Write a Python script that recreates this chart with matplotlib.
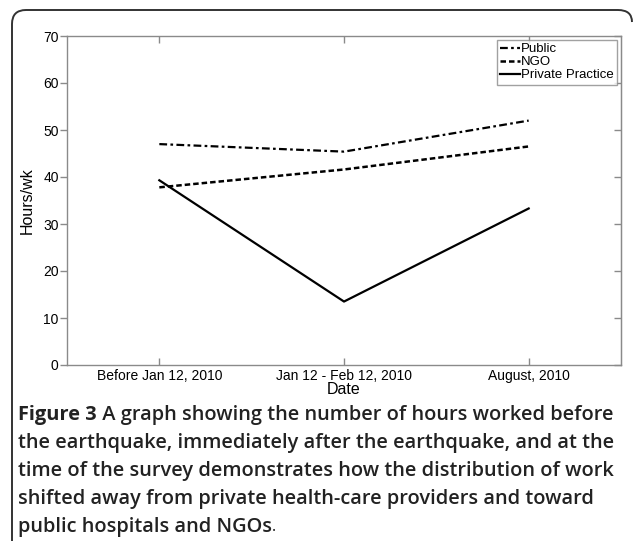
import matplotlib
matplotlib.use("Agg")
import matplotlib.pyplot as plt
from matplotlib.path import Path
from matplotlib.patches import PathPatch

categories = ["Before Jan 12, 2010", "Jan 12 - Feb 12, 2010", "August, 2010"]
public = [47.0, 45.4, 52.0]
ngo = [37.8, 41.6, 46.5]
private = [39.3, 13.5, 33.3]
series_names = ["Public", "NGO", "Private Practice"]
yticks = [0, 10, 20, 30, 40, 50, 60, 70]

caption_lines = [
    ("Figure 3", " A graph showing the number of hours worked before"),
    ("", "the earthquake, immediately after the earthquake, and at the"),
    ("", "time of the survey demonstrates how the distribution of work"),
    ("", "shifted away from private health-care providers and toward"),
    ("", "public hospitals and NGOs"),
]

W, H = 634, 541
fig = plt.figure(figsize=(W / 100, H / 100), dpi=100)
plt.rcParams['font.family'] = ['Liberation Sans', 'DejaVu Sans']

ax = fig.add_axes([67 / W, 1 - 365 / H, (621 - 67) / W, (365 - 36) / H])
x = [1, 2, 3]
ax.plot(x, public, color='black', lw=1.6, ls=(0, (3.5, 1.5, 1.2, 1.5)), label=series_names[0])
ax.plot(x, ngo, color='black', lw=1.8, ls=(0, (2.2, 1.2)), label=series_names[1])
ax.plot(x, private, color='black', lw=1.6, ls='-', label=series_names[2])

ax.set_xlim(0.5, 3.5)
ax.set_ylim(0, 70)
ax.set_xticks(x)
ax.set_xticklabels(categories)
ax.set_yticks(yticks)
gray = '#8a8a8a'
for s in ax.spines.values():
    s.set_color(gray)
    s.set_linewidth(1.0)
ax.tick_params(axis='both', colors=gray, labelcolor='black', labelsize=10, length=5, width=1)
ax.tick_params(axis='x', direction='in', top=True, pad=3)
ax.tick_params(axis='y', direction='out', right=False, pad=1)
ax2 = ax.secondary_yaxis('right')
ax2.set_yticks(yticks)
ax2.tick_params(direction='in', colors=gray, length=5, width=1, labelright=False)
ax2.spines['right'].set_color(gray)

ax.set_xlabel("Date", fontsize=11.5, labelpad=-1)
ax.set_ylabel("Hours/wk", fontsize=11.5, labelpad=6)

leg = ax.legend(loc='upper right', fontsize=9.5, frameon=True, fancybox=False,
                edgecolor=gray, handlelength=1.5, handletextpad=0.1,
                borderpad=0.25, labelspacing=0.05, borderaxespad=0.3)
leg.get_frame().set_linewidth(1.0)

def fx(px):
    return px / W

def fy(py):
    return 1 - py / H

verts = [(fx(12), fy(541)), (fx(12), fy(24)),
         (fx(12), fy(10)), (fx(26), fy(10)),
         (fx(618), fy(10)),
         (fx(632), fy(10)), (fx(632), fy(22))]
codes = [Path.MOVETO, Path.LINETO, Path.CURVE3, Path.CURVE3, Path.LINETO, Path.CURVE3, Path.CURVE3]
fig.patches.append(PathPatch(Path(verts, codes), transform=fig.transFigure,
                             fill=False, edgecolor='#333333', lw=1.4))

fig.canvas.draw()
renderer = fig.canvas.get_renderer()
cap_font = ['Open Sans', 'DejaVu Sans']
fs = 14.4
y0 = 415
dy = 28
for i, (bold, rest) in enumerate(caption_lines):
    ypix = y0 + i * dy
    xstart = 18
    if bold:
        t = fig.text(fx(xstart), fy(ypix), bold, fontsize=fs, fontweight='bold',
                     family=cap_font, va='center', ha='left', color='#222222')
        bb = t.get_window_extent(renderer)
        xstart = bb.x1
    t2 = fig.text(xstart / W, fy(ypix), rest, fontsize=fs, fontweight='semibold',
                  family=cap_font, va='center', ha='left', color='#222222')
    if i == len(caption_lines) - 1:
        bb2 = t2.get_window_extent(renderer)
        fig.text(bb2.x1 / W, fy(ypix), ".", fontsize=fs * 0.8, fontweight='normal',
                 family=cap_font, va='center', ha='left', color='#222222')

fig.savefig("out.png", dpi=100)
